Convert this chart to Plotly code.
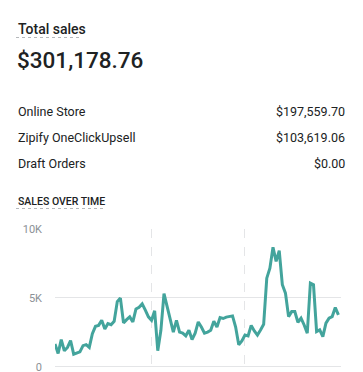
import plotly.graph_objects as go
import pandas as pd

# ---- data ----
title_label = "Total sales"
total_value = "$301,178.76"
channel_names = ["Online Store", "Zipify OneClickUpsell", "Draft Orders"]
channel_values = ["$197,559.70", "$103,619.06", "$0.00"]
chart_title = "SALES OVER TIME"

dates = pd.date_range("2019-10-01", "2019-12-31", freq="D")
sales_k = [
    1.65, 0.96, 1.97, 1.16, 1.4, 1.9, 0.91, 0.99, 1.08, 1.53,
    1.6, 1.4, 2.39, 2.93, 3.0, 3.37, 2.73, 3.13, 3.05, 3.3,
    4.73, 4.98, 3.18, 3.42, 3.62, 3.25, 4.19, 4.31, 4.56, 4.11,
    3.62, 3.37, 4.06, 1.16, 2.64, 5.3, 4.41, 3.37, 2.51, 3.37,
    2.51, 2.44, 2.24, 2.64, 1.97, 2.44, 3.25, 2.88, 2.44, 2.51,
    2.64, 3.3, 2.88, 3.57, 3.5, 3.6, 3.62, 3.69, 2.88, 1.6,
    1.87, 2.3, 2.23, 3.0, 2.6, 2.3, 2.67, 3.08, 6.43, 7.16,
    8.67, 7.65, 8.42, 5.95, 5.34, 3.64, 4.0, 4.0, 3.23, 3.52,
    3.03, 2.43, 6.07, 5.95, 2.55, 2.67, 2.18, 3.16, 3.52, 3.64,
    4.3, 3.76,
]
sales = [v * 1000 for v in sales_k]
y_tickvals = [0, 5000, 10000]
y_ticktext = ["0", "5K", "10K"]
x_gridvals = ["2019-10-01", "2019-11-01", "2019-12-01"]

# ---- layout geometry ----
# the page body adds an 8px margin, so figure pixel = screen pixel - 8
OFF = 8
W, H = 363, 372
L = 55 - OFF                 # plot left at screen x=55
R = W - (341 - OFF)          # plot right at screen x=341
T = 229 - OFF                # plot top (10K) at screen y=229
B = 0
pw, ph = W - L - R, H - T - B

def px(x):  # screen x -> paper
    return (x - OFF - L) / pw

def py(y):  # screen y -> paper
    return (H - B - (y - OFF)) / ph

FONT = "Roboto"
DARK = "#202223"
GRAY = "#8c9196"
GRID = "#e4e5e7"

fig = go.Figure()
fig.add_trace(go.Scatter(
    x=dates, y=sales, mode="lines",
    line=dict(color="#43a49c", width=3),
    hoverinfo="skip",
))

ann = []
shapes = []
ann.append(dict(text=title_label, x=px(16), y=py(29), xanchor="left", yanchor="middle",
                font=dict(family=FONT, size=14, color=DARK, weight=500)))
shapes.append(dict(type="line", xref="paper", yref="paper", x0=px(16), x1=px(82),
                   y0=py(37.5), y1=py(37.5), line=dict(color="#b5b8bb", width=1, dash="dot")))
ann.append(dict(text=total_value, x=px(15), y=py(60), xanchor="left", yanchor="middle",
                font=dict(family=FONT, size=22.5, color=DARK, weight=500)))
for i, (n, v) in enumerate(zip(channel_names, channel_values)):
    yy = 111 + i * 26.2
    ann.append(dict(text=n, x=px(16), y=py(yy), xanchor="left", yanchor="middle",
                    font=dict(family=FONT, size=12.5, color=DARK)))
    ann.append(dict(text=v, x=px(347), y=py(yy), xanchor="right", yanchor="middle",
                    font=dict(family=FONT, size=12.5, color=DARK)))
ann.append(dict(text=chart_title, x=px(16), y=py(201.5), xanchor="left", yanchor="middle",
                font=dict(family=FONT, size=10.5, color=DARK, weight=500)))
shapes.append(dict(type="line", xref="paper", yref="paper", x0=px(16), x1=px(103),
                   y0=py(208.5), y1=py(208.5), line=dict(color="#b5b8bb", width=1, dash="dot")))
for a in ann:
    a.update(xref="paper", yref="paper", showarrow=False)

zero_screen = 366.7
unit = (zero_screen - 229) / 10000.0
ymin = -((H + OFF) - zero_screen) / unit

fig.update_layout(
    width=W, height=H,
    margin=dict(l=L, r=R, t=T, b=B, pad=0),
    paper_bgcolor="white", plot_bgcolor="white",
    showlegend=False,
    annotations=ann, shapes=shapes,
    xaxis=dict(
        range=["2019-10-01", "2019-12-31 20:00"],
        tickvals=x_gridvals, showticklabels=False,
        showgrid=True, gridcolor=GRID, griddash="dash", gridwidth=1,
        zeroline=False, showline=False, ticks="",
    ),
    yaxis=dict(
        range=[ymin, 10000],
        tickvals=y_tickvals, ticktext=y_ticktext,
        showgrid=True, gridcolor=GRID, gridwidth=1,
        zeroline=False, showline=False, ticks="",
        tickfont=dict(family=FONT, size=11, color=GRAY),
        ticklabelstandoff=12,
    ),
)

fig.write_html("out.html")
